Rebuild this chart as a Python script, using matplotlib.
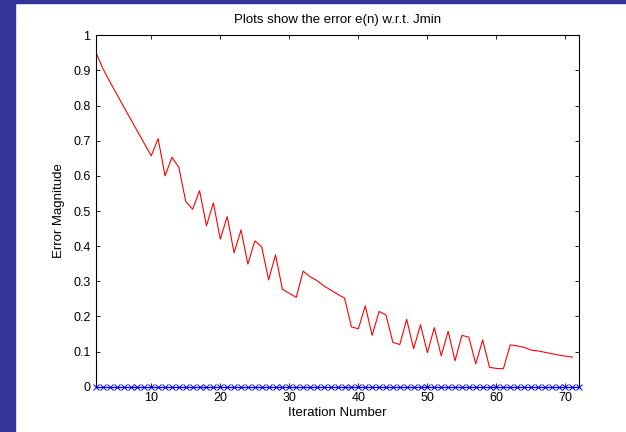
import matplotlib

matplotlib.use("Agg")
import matplotlib.pyplot as plt
from matplotlib.patches import Rectangle

plt.rcParams["font.family"] = ["Liberation Sans", "DejaVu Sans"]
plt.rcParams["font.size"] = 9.5

# error e(n) per iteration
iters = list(range(2, 72))
err = [0.951, 0.905, 0.868, 0.833, 0.797, 0.762, 0.727, 0.692, 0.657, 0.706,
       0.600, 0.653, 0.624, 0.527, 0.505, 0.558, 0.458, 0.523, 0.420, 0.484,
       0.381, 0.446, 0.349, 0.415, 0.398, 0.304, 0.375, 0.277, 0.266, 0.254,
       0.329, 0.313, 0.302, 0.287, 0.275, 0.263, 0.252, 0.170, 0.165, 0.230,
       0.146, 0.214, 0.204, 0.126, 0.120, 0.192, 0.108, 0.176, 0.097, 0.168,
       0.088, 0.158, 0.074, 0.146, 0.141, 0.065, 0.133, 0.055, 0.052, 0.051,
       0.119, 0.116, 0.112, 0.104, 0.102, 0.098, 0.094, 0.090, 0.087, 0.084]
jmin_iters = list(range(2, 73))
jmin_err = [0.0] * len(jmin_iters)

fig = plt.figure(figsize=(6.26, 4.32), dpi=100)
# blue slide frame on the left and top
fig.patches.append(Rectangle((0, 0), 15 / 626, 1, transform=fig.transFigure,
                             color="#333399", zorder=0))
fig.patches.append(Rectangle((0, 1 - 3 / 432), 1, 3 / 432, transform=fig.transFigure,
                             color="#333399", zorder=0))

ax = fig.add_axes([96 / 626, 45.3 / 432, 483.3 / 626, 351.4 / 432])
ax.plot(iters, err, color="red", linewidth=0.8)
ax.plot(jmin_iters, jmin_err, linestyle="-", linewidth=0.8, marker="x", color="blue",
        markersize=5, markeredgewidth=0.7, clip_on=False, zorder=5)

ax.set_xlim(2, 72)
ax.set_ylim(0, 1)
ax.set_xticks(range(10, 71, 10))
ax.set_yticks([i / 10 for i in range(11)])
ax.set_yticklabels(["0", "0.1", "0.2", "0.3", "0.4", "0.5", "0.6", "0.7", "0.8", "0.9", "1"])
ax.tick_params(direction="in", top=True, right=True, length=3, width=0.6, pad=4,
               labelsize=9)
for s in ax.spines.values():
    s.set_linewidth(0.8)

ax.set_title("Plots show the error e(n) w.r.t. Jmin", fontsize=9.5, pad=9)
ax.set_xlabel("Iteration Number", labelpad=2)
ax.set_ylabel("Error Magnitude", labelpad=6)

fig.savefig("out.png", dpi=100)
